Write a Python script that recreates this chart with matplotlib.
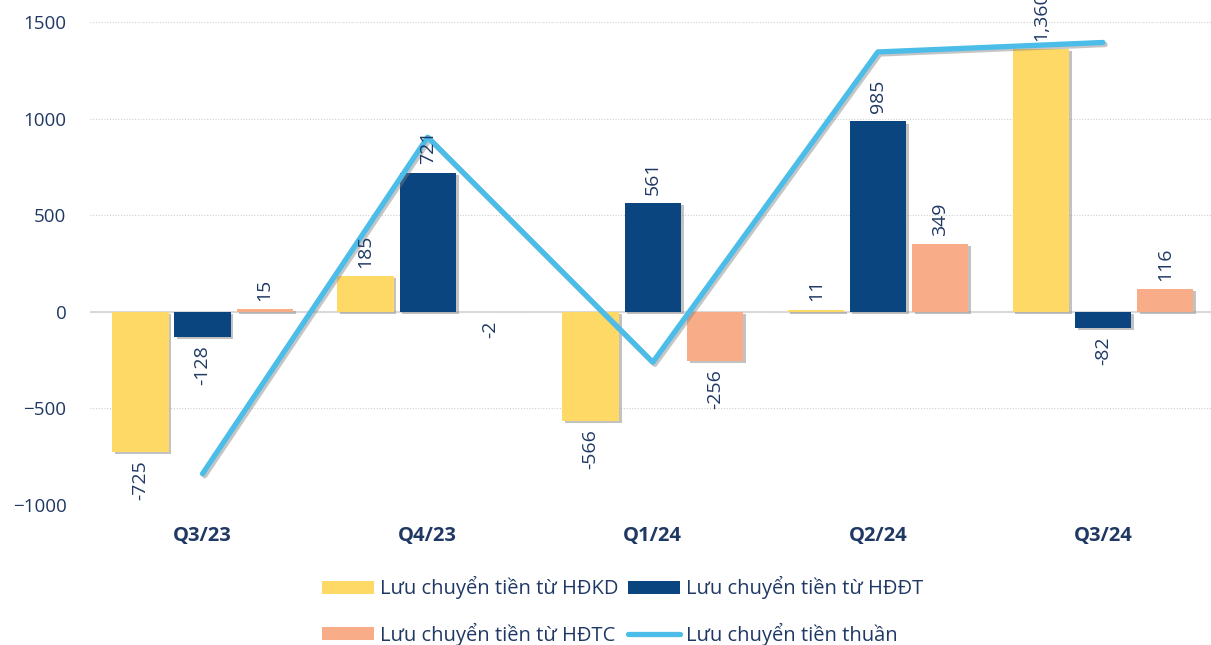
import numpy as np
import matplotlib as mpl
from matplotlib import pyplot as plt
from matplotlib import patheffects as pe

# data
quarters = ['Q3/23', 'Q4/23', 'Q1/24', 'Q2/24', 'Q3/24']
hdkd = [-725, 185, -566, 11, 1360]
hddt = [-128, 721, 561, 985, -82]
hdtc = [15, -2, -256, 349, 116]
thuan = [-838, 904, -261, 1345, 1394]

seriesNames = ['Lưu chuyển tiền từ HĐKD', 'Lưu chuyển tiền từ HĐĐT',
               'Lưu chuyển tiền từ HĐTC', 'Lưu chuyển tiền thuần']

pColors = {'yellow': '#FFD966', 'navy': '#0B4580', 'salmon': '#F8AD88',
           'line': '#4BBDE8', 'text': '#1F3864', 'grid': '#D0D0D0'}

mpl.rcParams['font.family'] = ['Open Sans', 'DejaVu Sans']
mpl.rcParams['font.size'] = 13.5

f = plt.figure(figsize = (12.11, 6.45), dpi = 100)
ax1 = f.add_axes([90 / 1211, 1 - 505 / 645, 1121 / 1211, (505 - 22) / 645])

for s in ax1.spines.values():
    s.set_visible(False)

x = np.arange(len(quarters))
barWidth = 0.25
offset = 0.276

barShadow = [pe.SimplePatchShadow(offset = (2, -1.5), shadow_rgbFace = '#9a9a9a', alpha = 0.6),
             pe.Normal()]

groups = [(hdkd, pColors['yellow'], -offset, seriesNames[0]),
          (hddt, pColors['navy'], 0.0, seriesNames[1]),
          (hdtc, pColors['salmon'], offset, seriesNames[2])]

handles = []
for vals, col, dx, name in groups:
    bars = ax1.bar(x + dx, vals, width = barWidth, color = col, zorder = 3, label = name)
    for b in bars:
        b.set_path_effects(barShadow)
    handles.append(bars)
    for xi, v in zip(x + dx, vals):
        ax1.annotate('{:,}'.format(v),
                     xy = (xi, v),
                     xytext = (0, 6 if v >= 0 else -6),
                     textcoords = 'offset points',
                     rotation = 90,
                     ha = 'center',
                     va = 'bottom' if v >= 0 else 'top',
                     color = pColors['text'],
                     fontsize = 14,
                     annotation_clip = False,
                     zorder = 6)

line, = ax1.plot(x, thuan, color = pColors['line'], lw = 3.8, zorder = 5,
                 solid_capstyle = 'round', label = seriesNames[3])
line.set_path_effects([pe.SimpleLineShadow(offset = (1.5, -1.5), shadow_color = '#808080', alpha = 0.45),
                       pe.Normal()])

# grid and zero line
ax1.set_ylim(-1000, 1500)
ax1.set_xlim(-0.5, 4.48)
ax1.set_yticks([-1000, -500, 0, 500, 1000, 1500])
ax1.yaxis.grid(True, color = pColors['grid'], linestyle = (0, (1, 1.5)), linewidth = 0.8, zorder = 0)
ax1.axhline(0, color = '#D9D9D9', lw = 1.5, zorder = 2)
ax1.set_axisbelow(True)

ax1.set_xticks(x)
ax1.set_xticklabels(quarters, fontweight = 'bold', color = pColors['text'], fontsize = 14.5)
ax1.tick_params('both', length = 0)
ax1.tick_params(axis = 'x', pad = 15)
ax1.tick_params(axis = 'y', pad = 17, labelcolor = pColors['text'])

legHandles = [handles[0], handles[2], handles[1], line]
legLabels = [seriesNames[0], seriesNames[2], seriesNames[1], seriesNames[3]]
leg = f.legend(legHandles, legLabels,
               loc = 'center',
               bbox_to_anchor = (0.514, 1 - 611 / 645),
               ncol = 2,
               frameon = False,
               handlelength = 2.6,
               handleheight = 0.6,
               handletextpad = 0.3,
               columnspacing = 0.45,
               labelspacing = 1.15,
               fontsize = 14.5)
for t in leg.get_texts():
    t.set_color(pColors['text'])
# legend keys are drawn flat (no shadow)
for h in leg.legend_handles:
    h.set_path_effects([])

f.savefig('out.png', dpi = 100)
